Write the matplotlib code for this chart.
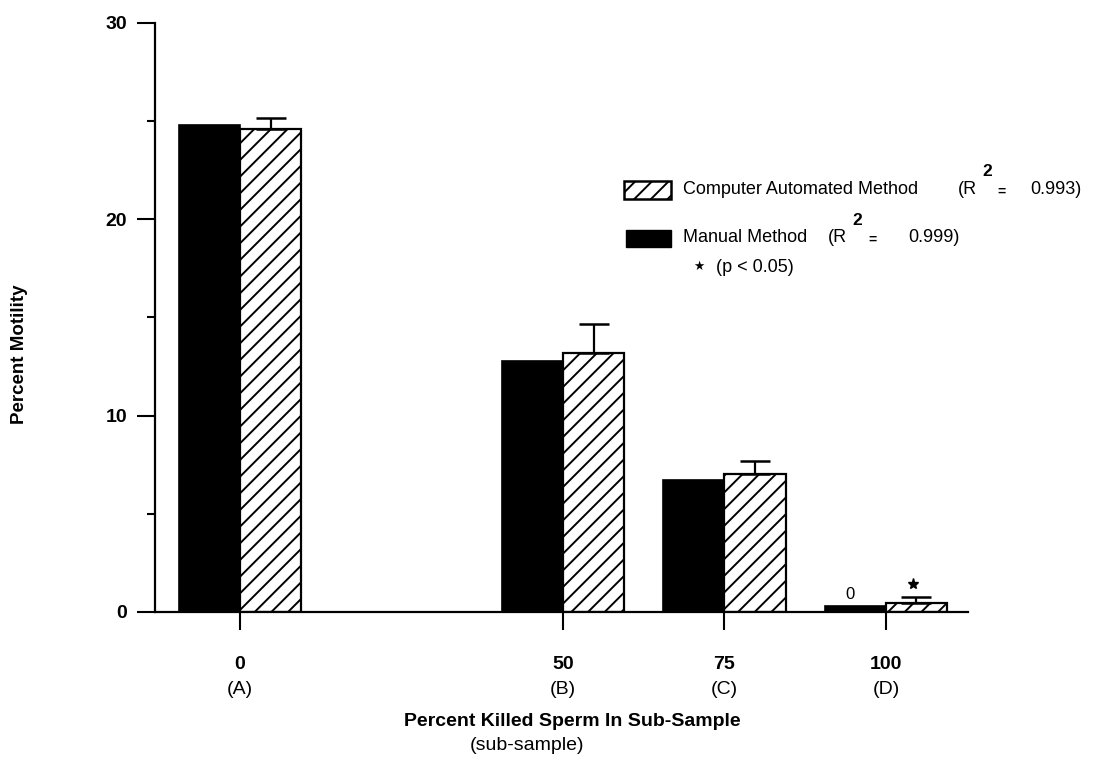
import matplotlib
matplotlib.use("Agg")
import matplotlib.pyplot as plt
from matplotlib.patches import Rectangle

plt.rcParams['font.family'] = ['Liberation Sans', 'DejaVu Sans']
plt.rcParams['hatch.linewidth'] = 1.4

# ---- data ----
killed_pct = [0, 50, 75, 100]
sub_labels = ['(A)', '(B)', '(C)', '(D)']
manual = [24.8, 12.8, 6.7, 0.3]
computer = [24.6, 13.2, 7.0, 0.45]
computer_err = [0.55, 1.45, 0.7, 0.3]

W, H = 1099, 762
fig = plt.figure(figsize=(W / 100, H / 100), dpi=100)
ax = fig.add_axes([155 / W, 1 - 612 / H, (968 - 155) / W, (612 - 22.7) / H])

bw = 9.45
ax.bar(killed_pct, manual, width=-bw, align='edge', color='black',
       edgecolor='black', linewidth=1.2, zorder=2)
ax.bar(killed_pct, computer, width=bw, align='edge', color='white',
       edgecolor='black', hatch='//', linewidth=1.6, zorder=2)
ax.errorbar([p + bw / 2 for p in killed_pct], computer,
            yerr=[[0] * len(computer_err), computer_err], fmt='none',
            ecolor='black', elinewidth=1.6, capsize=11, capthick=1.8, zorder=3)

# markers at the 100% group
ax.text(94.4, 0.5, '0', ha='center', va='bottom', fontsize=12)
ax.plot([104.2], [1.45], marker='*', color='black', markersize=8,
        linestyle='none', clip_on=False)

ax.set_xlim(-13.16, 112.7)
ax.set_ylim(0, 30)
ax.set_yticks([0, 10, 20, 30])
ax.set_yticks([5, 15, 25], minor=True)
ax.set_yticklabels(['0', '10', '20', '30'], fontweight='bold', fontsize=14)
ax.set_xticks(killed_pct)
ax.set_xticklabels([str(p) for p in killed_pct], fontweight='bold', fontsize=14)
ax.tick_params(axis='y', which='major', length=13, width=1.5, pad=7)
ax.tick_params(axis='y', which='minor', length=6, width=1.5)
ax.tick_params(axis='x', which='major', length=13, width=1.5, pad=19)
for s in ['top', 'right']:
    ax.spines[s].set_visible(False)
for s in ['left', 'bottom']:
    ax.spines[s].set_linewidth(1.6)

for p, lab in zip(killed_pct, sub_labels):
    ax.text(p, -3.95, lab, ha='center', va='center', fontsize=14,
            clip_on=False)

fig.text(20 / W, 1 - 354 / H, 'Percent Motility', rotation=90, ha='center',
         va='center', fontsize=13.5, fontweight='bold')
fig.text(572 / W, 1 - 721 / H, 'Percent Killed Sperm In Sub-Sample',
         ha='center', va='center', fontsize=14, fontweight='bold')
fig.text(527 / W, 1 - 746 / H, '(sub-sample)', ha='center', va='center',
         fontsize=14)

# ---- hand-drawn legend ----
def fx(px):
    return px / W

def fy(py):
    return 1 - py / H

fig.add_artist(Rectangle((fx(624), fy(199)), fx(671) - fx(624), fy(181) - fy(199),
                         transform=fig.transFigure, facecolor='white',
                         edgecolor='black', hatch='//', linewidth=1.8))
fig.add_artist(Rectangle((fx(626), fy(247)), fx(671) - fx(626), fy(230) - fy(247),
                         transform=fig.transFigure, facecolor='black',
                         edgecolor='black', linewidth=1))
fs = 13
fig.text(fx(683), fy(190), 'Computer Automated Method', ha='left', va='center', fontsize=fs)
fig.text(fx(958), fy(190), '(R', ha='left', va='center', fontsize=fs)
fig.text(fx(982), fy(172), '2', ha='left', va='center', fontsize=12.5, fontweight='bold')
fig.text(fx(997), fy(192), '=', ha='left', va='center', fontsize=10, fontweight='bold')
fig.text(fx(1030), fy(190), '0.993)', ha='left', va='center', fontsize=fs)
fig.text(fx(683), fy(238), 'Manual Method', ha='left', va='center', fontsize=fs)
fig.text(fx(828), fy(238), '(R', ha='left', va='center', fontsize=fs)
fig.text(fx(852), fy(220), '2', ha='left', va='center', fontsize=12.5, fontweight='bold')
fig.text(fx(868), fy(240), '=', ha='left', va='center', fontsize=10, fontweight='bold')
fig.text(fx(908), fy(238), '0.999)', ha='left', va='center', fontsize=fs)
fig.text(fx(699), fy(266), '\u2605', ha='center', va='center', fontsize=9,
         family='DejaVu Sans')
fig.text(fx(716), fy(268), '(p < 0.05)', ha='left', va='center', fontsize=fs)

fig.savefig('out.png', dpi=100)
